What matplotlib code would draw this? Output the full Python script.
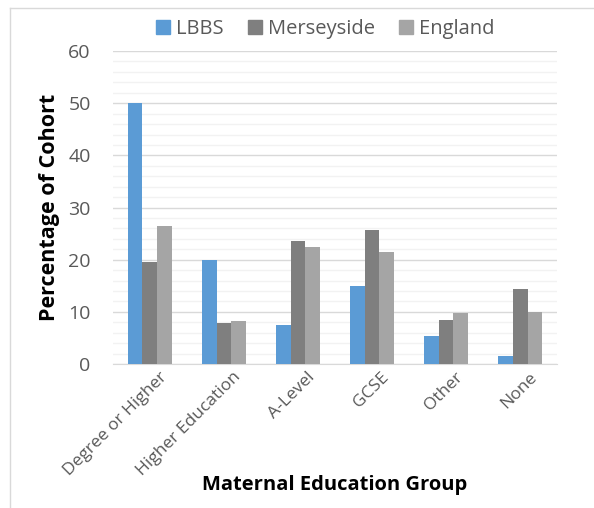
import matplotlib.pyplot as plt
import numpy as np
from matplotlib.lines import Line2D
from matplotlib.patches import Patch

# Maternal education groups and % of cohort per area
groups = ['Degree or Higher', 'Higher Education', 'A-Level', 'GCSE', 'Other', 'None']
lbbs = [50.0, 19.9, 7.4, 15.0, 5.3, 1.5]
merseyside = [19.6, 7.8, 23.5, 25.7, 8.5, 14.3]
england = [26.4, 8.2, 22.4, 21.5, 9.8, 9.9]
series_names = ['LBBS', 'Merseyside', 'England']
colors = ['#5B9BD5', '#7F7F7F', '#A5A5A5']

plt.rcParams['font.family'] = ['Open Sans', 'DejaVu Sans']

fig = plt.figure(figsize=(5.94, 5.08), dpi=100)
ax = fig.add_axes([0.190, 0.2835, 0.748, 0.616])

x = np.arange(len(groups))
w = 0.2
for i, (vals, c) in enumerate(zip([lbbs, merseyside, england], colors)):
    ax.bar(x + (i - 1) * w, vals, width=w, color=c, zorder=3)

ax.set_xlim(-0.5, len(groups) - 0.5)
ax.set_ylim(0, 60)
ax.set_yticks(range(0, 61, 10))
ax.set_yticks(range(0, 61, 2), minor=True)
ax.grid(axis='y', which='major', color='#D9D9D9', lw=1.0, zorder=0)
ax.grid(axis='y', which='minor', color='#F2F2F2', lw=1.0, zorder=0)
ax.tick_params(axis='both', which='both', length=0, labelcolor='#595959')
ax.tick_params(axis='x', labelsize=12.5)
ax.tick_params(axis='y', labelsize=14, pad=16)
for s in ['top', 'right', 'left']:
    ax.spines[s].set_visible(False)
ax.spines['bottom'].set_color('#D9D9D9')

ax.set_xticks(x + 0.12)
ax.set_xticklabels(groups, rotation=45, ha='right', rotation_mode='anchor')

ax.set_ylabel('Percentage of Cohort', fontsize=15.5, fontweight='bold', labelpad=6)
ax.set_xlabel('Maternal Education Group', fontsize=14.5, fontweight='bold', labelpad=-3)

handles = [Patch(color=c) for c in colors]
fig.legend(handles, series_names, loc='center', bbox_to_anchor=(0.548, 0.942), ncol=3,
           frameon=False, fontsize=14.5, handlelength=0.7, handleheight=0.7,
           handletextpad=0.3, columnspacing=1.2, labelcolor='#595959')

# light frame line on left and top
fig.add_artist(Line2D([10 / 594, 10 / 594], [0, 1 - 8 / 508], color='#D9D9D9', lw=1))
fig.add_artist(Line2D([10 / 594, 1], [1 - 8 / 508, 1 - 8 / 508], color='#D9D9D9', lw=1))

fig.savefig('out.png', dpi=100)
